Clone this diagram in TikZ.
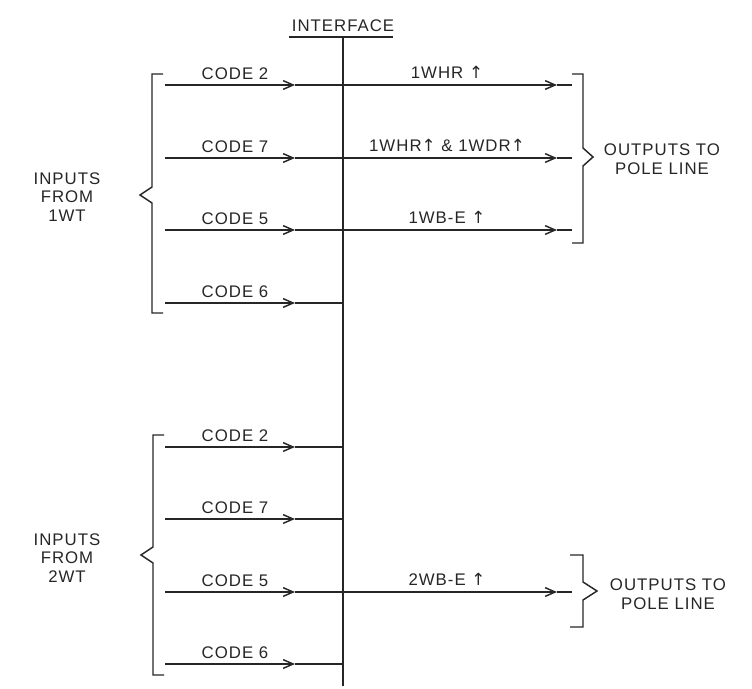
\documentclass[tikz,border=0pt]{standalone}
\usepackage{fontspec}
\setmainfont[LetterSpace=6]{Liberation Sans}
\newfontfamily\arrowfont{DejaVu Sans}
\usetikzlibrary{arrows.meta}
\begin{document}
\begin{tikzpicture}[x=0.75pt,y=-0.75pt,
  line width=1.1pt, color={black!85},
  lbl/.style={inner sep=0pt, font=\fontsize{12.6}{13.9}\selectfont, align=center},
  sig/.style={-{Straight Barb[length=7.5pt,width=6.5pt,line width=1.1pt]}},
  brk/.style={line width=1.1pt, line join=miter}]
\useasboundingbox (0,0) rectangle (752,688);
% interface
\node[lbl] (iface) at (343,26) {INTERFACE};
\coordinate (ul1) at (289,37);
\coordinate (ul2) at (393,37);
\draw (ul1) -- (ul2);
\coordinate (itop) at (343,37);
\coordinate (ibot) at (343,686);
\draw (itop) -- (ibot);
% input lines
\foreach \y/\t/\n in {85/2/a,158/7/b,230/5/c,303/6/d,447/2/e,519/7/f,592/5/g,664/6/h} {
  \coordinate (s\n) at (165,\y);
  \coordinate (m\n) at (295,\y);
  \coordinate (j\n) at (343,\y);
  \node[lbl] (t\n) at (235,\y-11) {CODE \t};
  \draw[sig] (s\n) -- (m\n);
  \draw (m\n) -- (j\n);
}
% output lines
\foreach \y/\t/\n in {85/{1WHR {\arrowfont ↑}}/a,158/{1WHR{\arrowfont ↑} \& 1WDR{\arrowfont ↑}}/b,230/{1WB-E {\arrowfont ↑}}/c,592/{2WB-E {\arrowfont ↑}}/g} {
  \coordinate (r\n) at (557,\y);
  \coordinate (e\n) at (572,\y);
  \node[lbl] (o\n) at (447,\y-13) {\t};
  \draw[sig] (j\n) -- (r\n);
  \draw (r\n) -- (e\n);
}
% brackets
\draw[brk] (163,74) -- (152,74) -- (152,187) -- (140,195) -- (152,203) -- (152,313) -- (163,313);
\draw[brk] (164,435) -- (153,435) -- (153,547) -- (141,555) -- (153,563) -- (153,675) -- (164,675);
\draw[brk] (572,74) -- (583,74) -- (583,148) -- (593,157) -- (583,166) -- (583,243) -- (572,243);
\draw[brk] (570,555) -- (583,555) -- (583,582) -- (597,591) -- (583,600) -- (583,627) -- (570,627);
% group labels
\node[lbl] (in1) at (67,197) {INPUTS\\FROM\\1WT};
\node[lbl] (in2) at (67,558) {INPUTS\\FROM\\2WT};
\node[lbl] (out1) at (662,159) {OUTPUTS TO\\POLE LINE};
\node[lbl] (out2) at (668,594) {OUTPUTS TO\\POLE LINE};
\end{tikzpicture}
\end{document}
